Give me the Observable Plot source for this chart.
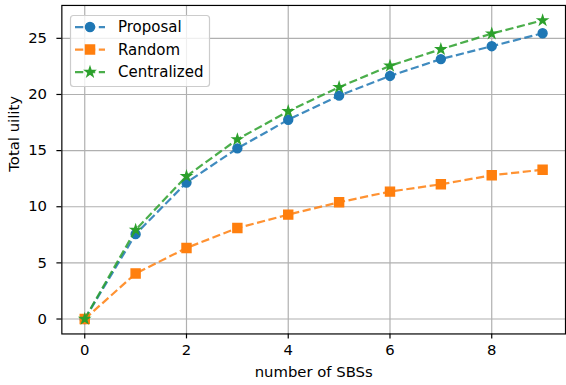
<!DOCTYPE html>
<html>
<head>
<meta charset="utf-8">
<script src="https://cdn.jsdelivr.net/npm/d3@7"></script>
<script src="https://cdn.jsdelivr.net/npm/@observablehq/plot@0.6"></script>
<style>
  html, body { margin: 0; padding: 0; background: white; overflow: hidden; }
  #wrap { position: relative; width: 566px; height: 385px; overflow: hidden; }
  #wrap > svg { position: absolute; left: 0; top: 0; }
</style>
</head>
<body>
<div id="wrap"></div>
<script>
// ---- data ----
const sbs = [0, 1, 2, 3, 4, 5, 6, 7, 8, 9];
const proposal = [0, 7.56, 12.15, 15.2, 17.75, 19.9, 21.65, 23.15, 24.3, 25.45];
const random = [0, 4.05, 6.33, 8.1, 9.3, 10.4, 11.35, 12.0, 12.8, 13.3];
const centralized = [0, 7.94, 12.72, 16.0, 18.5, 20.65, 22.55, 24.03, 25.42, 26.6];
const seriesNames = ["Proposal", "Random", "Centralized"];
const xTicks = [0, 2, 4, 6, 8];
const yTicks = [0, 5, 10, 15, 20, 25];
const xLabel = "number of SBSs";
const yLabel = "Total uility";

// ---- styles ----
const styles = {
  Proposal: {color: "#1f77b4", symbol: "circle", r: 4.5},
  Random: {color: "#ff7f0e", symbol: "square", r: 5.1},
  Centralized: {color: "#2ca02c", symbol: "star", r: 2.9}
};
const valuesByName = {Proposal: proposal, Random: random, Centralized: centralized};

const table = seriesNames.flatMap(name =>
  sbs.map((x, i) => ({series: name, x, y: valuesByName[name][i]}))
);

const font = "'DejaVu Sans', sans-serif";
const grid = {stroke: "#b0b0b0", strokeOpacity: 1, strokeWidth: 1.2};

const seriesMarks = seriesNames.flatMap(name => {
  const d = table.filter(r => r.series === name);
  const s = styles[name];
  return [
    Plot.line(d, {x: "x", y: "y", stroke: s.color, strokeWidth: 2.25, strokeOpacity: 0.85,
      strokeDasharray: "8.3,3.6", strokeLinecap: "butt", strokeLinejoin: "round"}),
    Plot.dot(d, {x: "x", y: "y", symbol: () => s.symbol, r: s.r,
      fill: s.color, stroke: s.color, strokeWidth: 1.5})
  ];
});

const chart = Plot.plot({
  width: 572,
  height: 385,
  marginLeft: 62,
  marginRight: 1,
  marginTop: 5,
  marginBottom: 48,
  style: {fontFamily: font, fontSize: "15px", color: "black", background: "white"},
  x: {domain: [-0.45, 9.45]},
  y: {domain: [-1.33, 27.93]},
  symbol: {type: "identity"},
  marks: [
    Plot.gridX(xTicks, grid),
    Plot.gridY(yTicks, grid),
    Plot.axisX(xTicks, {tickSize: 5, tickPadding: 6, label: null, fontSize: 15, strokeWidth: 1.2}),
    Plot.axisY(yTicks, {tickSize: 5, tickPadding: 10, label: null, fontSize: 15, strokeWidth: 1.2}),
    ...seriesMarks,
    Plot.frame({stroke: "black", strokeWidth: 1.2}),
    Plot.text([xLabel], {text: d => d, frameAnchor: "bottom", dy: 43, fontSize: 15, fill: "black"}),
    Plot.text([yLabel], {text: d => d, frameAnchor: "left", rotate: -90, dx: -48, dy: 2, fontSize: 15, fill: "black"})
  ]
});
document.getElementById("wrap").appendChild(chart);

// ---- legend overlay ----
const leg = d3.select("#wrap").append("svg")
  .attr("width", 566).attr("height", 385)
  .style("pointer-events", "none");
leg.append("rect")
  .attr("x", 70.5).attr("y", 15.5).attr("width", 139).attr("height", 71)
  .attr("rx", 3).attr("fill", "white").attr("fill-opacity", 0.8)
  .attr("stroke", "#cccccc").attr("stroke-width", 1.2);
seriesNames.forEach((name, i) => {
  const s = styles[name];
  const cy = 27 + i * 22.5;
  const g = leg.append("g");
  g.append("line").attr("x1", 75).attr("x2", 105).attr("y1", cy).attr("y2", cy)
    .attr("stroke", s.color).attr("stroke-width", 2.25).attr("stroke-opacity", 0.85)
    .attr("stroke-dasharray", "8.3,3.6").attr("stroke-linecap", "butt");
  const sym = {circle: d3.symbolCircle, square: d3.symbolSquare, star: d3.symbolStar}[s.symbol];
  g.append("path").attr("transform", `translate(90,${cy})`)
    .attr("d", d3.symbol(sym, s.r * s.r * Math.PI)())
    .attr("fill", s.color).attr("stroke", s.color).attr("stroke-width", 1.5);
  g.append("text").attr("x", 118).attr("y", cy + 5)
    .attr("font-family", font).attr("font-size", 15).attr("fill", "black")
    .text(name);
});
</script>
</body>
</html>
